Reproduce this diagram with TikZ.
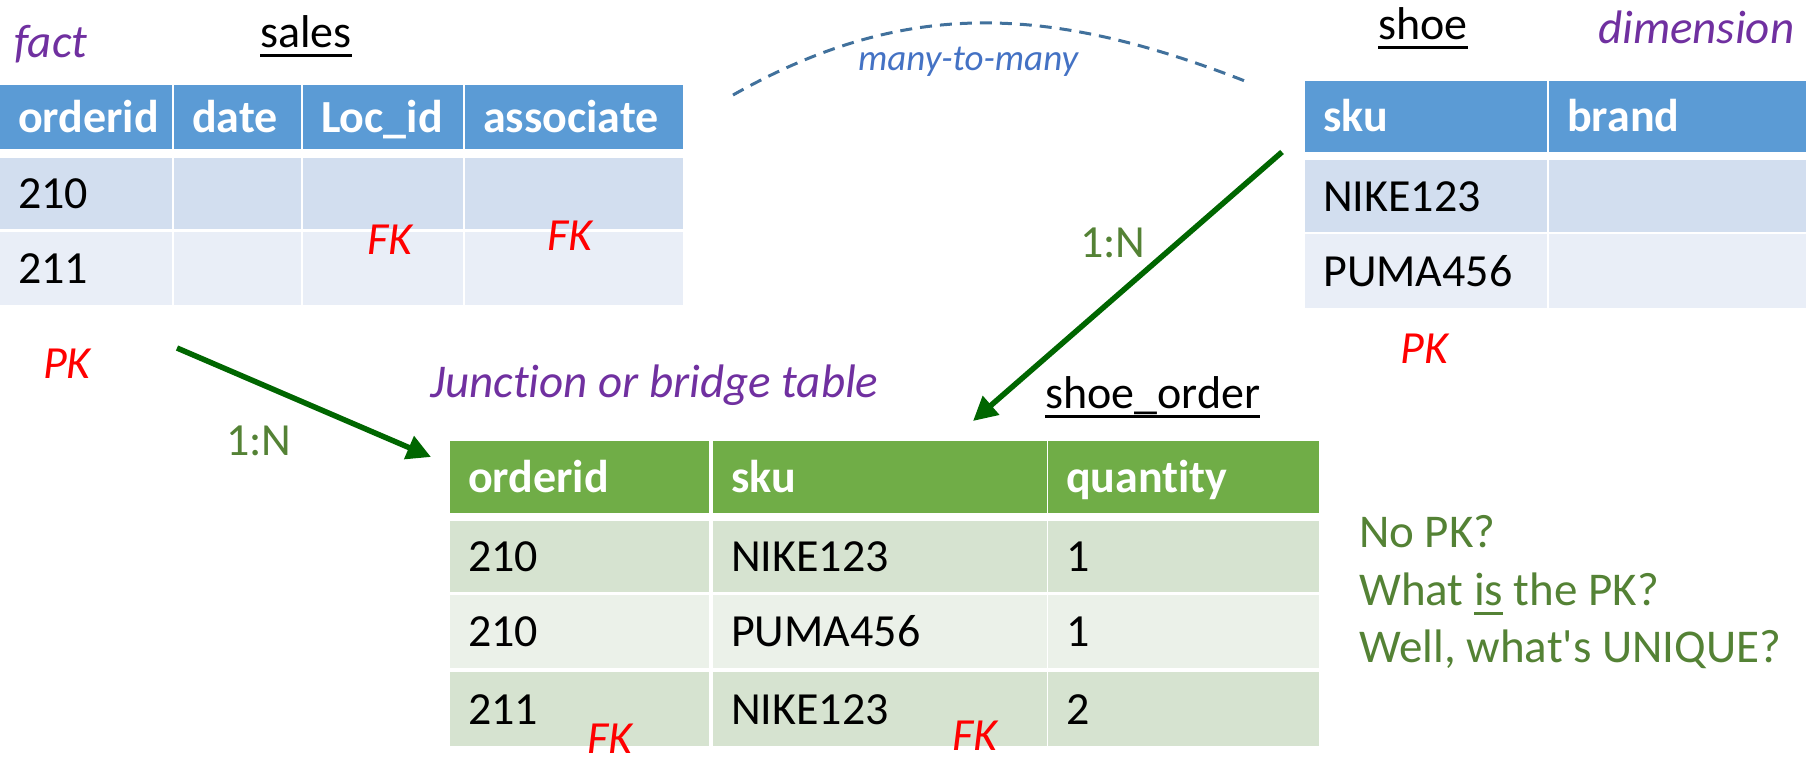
\documentclass[tikz,border=0pt]{standalone}
\usepackage{fontspec}
\setmainfont{Carlito}[Ligatures={NoCommon}]
\usetikzlibrary{arrows.meta}

\definecolor{salesblue}{RGB}{91,155,213}
\definecolor{salesrowa}{RGB}{210,222,239}
\definecolor{salesrowb}{RGB}{233,238,247}
\definecolor{ordgreen}{RGB}{112,173,71}
\definecolor{ordrowa}{RGB}{214,227,208}
\definecolor{ordrowb}{RGB}{235,241,233}
\definecolor{notegreen}{RGB}{84,130,53}
\definecolor{tagpurple}{RGB}{112,48,160}
\definecolor{linkgreen}{RGB}{0,102,0}
\definecolor{arcblue}{RGB}{65,113,156}
\definecolor{mmblue}{RGB}{68,114,196}

\newcommand\basefont{\fontsize{46}{56}\selectfont}
% underline with a thick rule
\newcommand\uword[1]{\setbox0\hbox{#1}\rlap{\rule[-9.5pt]{\wd0}{3pt}}\box0\relax}

\tikzset{
  cell/.style={anchor=north west, inner xsep=18pt, inner ysep=0pt, align=left,
    text height=38pt, text depth=8pt, font=\basefont},
  shead/.style={cell, fill=salesblue, text=white, font=\basefont\bfseries},
  srowa/.style={cell, fill=salesrowa},
  srowb/.style={cell, fill=salesrowb},
  ohead/.style={cell, fill=ordgreen, text=white, font=\basefont\bfseries},
  orowa/.style={cell, fill=ordrowa},
  orowb/.style={cell, fill=ordrowb},
  lbl/.style={inner sep=0pt, anchor=base west, font=\basefont},
  tag/.style={lbl, text=tagpurple, font=\fontsize{47}{56}\selectfont\itshape},
  key/.style={lbl, text=red, font=\basefont\itshape},
  card/.style={lbl, text=notegreen},
  note/.style={card, font=\fontsize{47}{57}\selectfont},
  link/.style={draw=linkgreen, line width=5.5pt, -{Triangle[length=24pt,width=24pt]}},
  arc/.style={draw=arcblue, line width=3pt, dash pattern=on 12pt off 8pt}
}

\begin{document}
\begin{tikzpicture}[x=1pt, y=-1pt]
\useasboundingbox (0,0) rectangle (1806,764);

% sales table
\node[shead, text width=136pt, minimum height=64pt] (s-h1) at (0,85) {orderid};
\node[shead, text width=91pt, minimum height=64pt] (s-h2) at (174,85) {date};
\node[shead, text width=124pt, minimum height=64pt] (s-h3) at (303,85) {Loc\_id};
\node[shead, text width=182pt, minimum height=64pt] (s-h4) at (465,85) {associate};
\node[srowa, text width=136pt, minimum height=71pt] (s-a1) at (0,158) {210};
\node[srowa, text width=91pt, minimum height=71pt] (s-a2) at (174,158) {};
\node[srowa, text width=124pt, minimum height=71pt] (s-a3) at (303,158) {};
\node[srowa, text width=182pt, minimum height=71pt] (s-a4) at (465,158) {};
\node[srowb, text width=136pt, minimum height=73pt] (s-b1) at (0,232) {211};
\node[srowb, text width=91pt, minimum height=73pt] (s-b2) at (174,232) {};
\node[srowb, text width=124pt, minimum height=73pt] (s-b3) at (303,232) {};
\node[srowb, text width=182pt, minimum height=73pt] (s-b4) at (465,232) {};

% shoe table
\node[shead, text width=206pt, minimum height=71pt] (d-h1) at (1305,81) {sku};
\node[shead, text width=221pt, minimum height=71pt] (d-h2) at (1549,81) {brand};
\node[srowa, text width=206pt, minimum height=72pt] (d-a1) at (1305,160) {NIKE123};
\node[srowa, text width=221pt, minimum height=72pt] (d-a2) at (1549,160) {};
\node[srowb, text width=206pt, minimum height=74pt] (d-b1) at (1305,234) {PUMA456};
\node[srowb, text width=221pt, minimum height=74pt] (d-b2) at (1549,234) {};

% shoe_order table
\node[ohead, text width=223pt, minimum height=72pt] (o-h1) at (450,441) {orderid};
\node[ohead, text width=298pt, minimum height=72pt] (o-h2) at (713,441) {sku};
\node[ohead, text width=235pt, minimum height=72pt] (o-h3) at (1048,441) {quantity};
\node[orowa, text width=223pt, minimum height=71pt] (o-a1) at (450,521) {210};
\node[orowa, text width=298pt, minimum height=71pt] (o-a2) at (713,521) {NIKE123};
\node[orowa, text width=235pt, minimum height=71pt] (o-a3) at (1048,521) {1};
\node[orowb, text width=223pt, minimum height=73pt] (o-b1) at (450,595) {210};
\node[orowb, text width=298pt, minimum height=73pt] (o-b2) at (713,595) {PUMA456};
\node[orowb, text width=235pt, minimum height=73pt] (o-b3) at (1048,595) {1};
\node[orowa, text width=223pt, minimum height=74pt] (o-c1) at (450,672) {211};
\node[orowa, text width=298pt, minimum height=74pt] (o-c2) at (713,672) {NIKE123};
\node[orowa, text width=235pt, minimum height=74pt] (o-c3) at (1048,672) {2};

% titles and tags
\node[tag] (facttag) at (14,57) {fact};
\node[lbl] (salestitle) at (260,47) {\uword{sales}};
\node[lbl] (shoetitle) at (1378,39) {\uword{shoe}};
\node[tag] (dimtag) at (1598,43) {dimension};
\node[tag] (bridgetag) at (430,397) {Junction or bridge table};
\node[lbl] (ordtitle) at (1045,408) {\uword{shoe\_order}};

% keys
\node[key] (s-fk1) at (367,254) {FK};
\node[key] (s-fk2) at (547,250) {FK};
\node[key] (s-pk) at (43,378) {PK};
\node[key] (d-pk) at (1400,363) {PK};
\node[key] (o-fk1) at (587,753) {FK};
\node[key] (o-fk2) at (952,750) {FK};

% relationships
\coordinate (salesout) at (177,348);
\coordinate (ordleft) at (431,457);
\coordinate (shoeout) at (1282,152);
\coordinate (ordtop) at (973,421);
\draw[link] (salesout) -- (ordleft);
\draw[link] (shoeout) -- (ordtop);
\node[card] (card1) at (226,455) {1:N};
\node[card] (card2) at (1080,257) {1:N};

\coordinate (mmleft) at (733,95);
\coordinate (mmright) at (1250,83);
\draw[arc] (mmleft) .. controls (900,1) and (1042,1) .. (mmright);
\node[lbl, text=mmblue, font=\fontsize{37}{44}\selectfont\itshape] (mmtag) at (858,70) {many-to-many};

% question
\node[note] (note1) at (1359,547) {No PK?};
\node[note] (note2) at (1359,605) {What \uword{is} the PK?};
\node[note] (note3) at (1359,662) {Well, what\textquotesingle s UNIQUE?};
\end{tikzpicture}
\end{document}
